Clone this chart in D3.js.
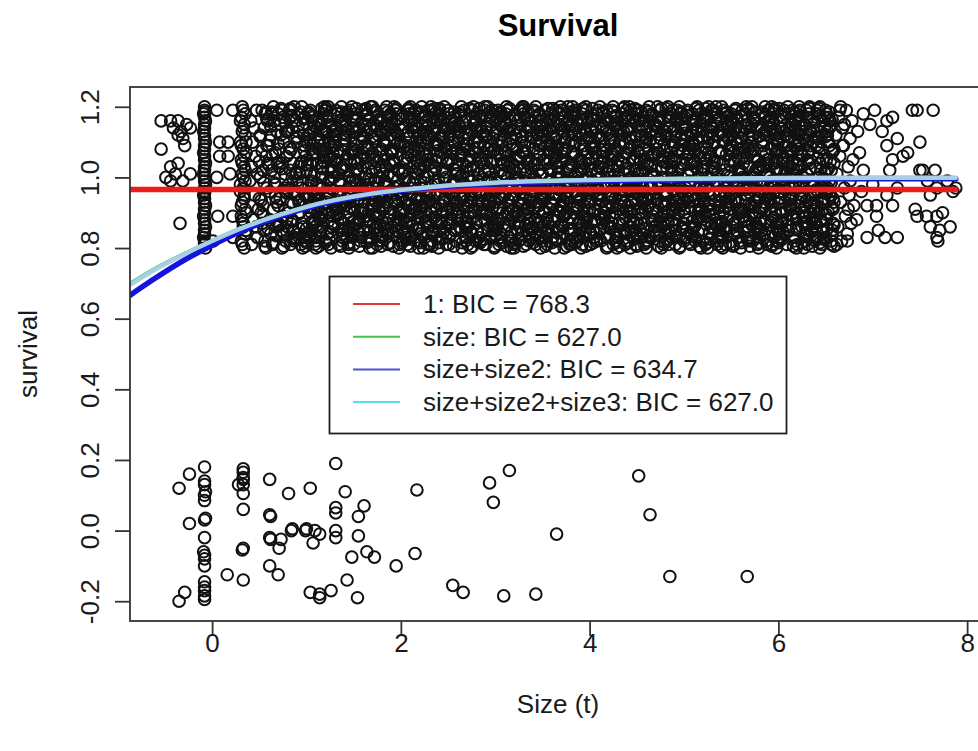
<!DOCTYPE html>
<html>
<head>
<meta charset="utf-8">
<script src="https://cdn.jsdelivr.net/npm/d3@7"></script>
<style>
  body { margin: 0; background: #fff; }
  text { font-family: "Liberation Sans", Arial, Helvetica, sans-serif; }
</style>
</head>
<body>
<svg id="chart" width="978" height="751"></svg>
<script>
// ---- axis ticks ----
const xTicks = [0, 2, 4, 6, 8];
const yTicks = [-0.2, 0, 0.2, 0.4, 0.6, 0.8, 1.0, 1.2];

// ---- individuals that died: [size, jittered survival] ----
const died = [
[-0.35,0.12],[-0.24,0.16],[-0.08,0.18],[-0.08,0.14],[-0.08,0.13],[-0.07,0.11],[-0.08,0.10],[-0.08,0.085],[-0.24,0.02],[-0.08,0.03],[-0.07,0.035],[-0.08,-0.02],[-0.09,-0.06],[-0.08,-0.07],[-0.08,-0.08],[-0.08,-0.10],[-0.08,-0.145],[-0.08,-0.16],[-0.08,-0.17],[-0.08,-0.185],[-0.08,-0.195],[-0.29,-0.175],[-0.35,-0.20],
[0.33,0.175],[0.33,0.165],[0.33,0.15],[0.33,0.145],[0.33,0.13],[0.28,0.13],[0.33,0.105],[0.33,0.06],[0.33,-0.05],[0.32,-0.055],[0.33,-0.14],[0.16,-0.125],
[0.61,0.145],[0.61,0.045],[0.62,0.04],[0.61,-0.02],[0.62,-0.025],[0.71,-0.05],[0.73,-0.025],[0.61,-0.10],[0.70,-0.125],[0.81,0.105],[0.84,0.0],[0.85,0.005],[0.99,0.0],[1.00,0.005],[1.09,0.0],[1.14,-0.01],[1.07,-0.035],[1.04,0.12],[1.31,0.19],[1.31,0.065],[1.31,0.05],[1.31,0.0],[1.31,-0.02],[1.41,0.11],[1.61,0.07],[1.55,0.04],[1.55,-0.015],[1.48,-0.075],[1.64,-0.06],[1.72,-0.075],[1.43,-0.14],[1.54,-0.19],[1.04,-0.175],[1.14,-0.18],[1.14,-0.19],[1.26,-0.17],[1.95,-0.10],[2.15,-0.065],[2.17,0.115],
[2.55,-0.155],[2.66,-0.175],[2.94,0.135],[3.15,0.17],[2.98,0.08],[3.09,-0.185],[3.43,-0.18],[3.65,-0.01],[4.52,0.155],[4.64,0.045],[4.85,-0.13],[5.67,-0.13]
];

// ---- individuals that survived: [size, jittered survival] ----
const survivedSmall = [
[-0.54,1.16],[-0.44,1.16],[-0.36,1.16],[-0.27,1.15],[-0.41,1.14],[-0.33,1.13],[-0.23,1.14],[-0.31,1.11],[-0.36,1.12],[-0.54,1.08],[-0.29,1.09],[-0.44,1.03],[-0.36,1.04],[-0.49,1.00],[-0.39,1.01],[-0.23,1.01],[-0.31,0.99],[-0.44,0.99],[-0.34,0.87],
[0.05,1.19],[0.22,1.19],[0.08,1.10],[0.17,1.10],[0.08,1.06],[0.17,1.06],[0.05,1.00],[0.19,1.01],[0.06,0.89],[0.22,0.89],[0.01,0.82],[0.22,0.83]
];
const survivedColumnA = [
[-0.08,1.20],[-0.08,1.19],[-0.09,1.18],[-0.08,1.17],[-0.07,1.16],[-0.08,1.15],[-0.08,1.14],[-0.09,1.13],[-0.08,1.12],[-0.08,1.11],[-0.07,1.10],[-0.08,1.09],[-0.08,1.08],[-0.09,1.07],[-0.08,1.06],[-0.08,1.05],[-0.07,1.04],[-0.08,1.03],[-0.08,1.02],[-0.09,1.01],[-0.08,1.00],[-0.08,0.99],[-0.07,0.98],[-0.08,0.97],[-0.08,0.96],[-0.09,0.95],[-0.08,0.94],[-0.08,0.93],[-0.07,0.92],[-0.08,0.91],[-0.08,0.90],[-0.09,0.89],[-0.08,0.88],[-0.08,0.87],[-0.07,0.86],[-0.08,0.85],[-0.08,0.84],[-0.09,0.83],[-0.08,0.82],[-0.08,0.81],[-0.07,0.80],[-0.08,1.185],[-0.08,0.955],[-0.08,0.815]
];
const survivedColumnB = [
[0.33,1.19],[0.31,1.17],[0.34,1.15],[0.32,1.13],[0.35,1.12],[0.30,1.10],[0.33,1.08],[0.36,1.07],[0.31,1.05],[0.34,1.03],[0.32,1.01],[0.35,0.99],[0.33,0.97],[0.30,0.96],[0.34,0.94],[0.31,0.92],[0.36,0.90],[0.32,0.88],[0.33,0.86],[0.35,0.84],[0.31,0.82],[0.34,0.80],[0.32,1.20],[0.35,1.18],[0.30,1.16],[0.33,1.14],[0.36,1.10],[0.31,1.09],[0.34,1.06],[0.32,1.04],[0.35,1.02],[0.33,1.00],[0.30,0.98],[0.34,0.95],[0.32,0.93],[0.35,0.91],[0.31,0.89],[0.33,0.87],[0.36,0.85],[0.32,0.81]
];
const survivedRising = [
[0.41,1.16],[0.44,0.88],[0.42,1.03],[0.47,1.19],[0.45,0.95],[0.48,0.83],[0.43,1.10],[0.46,1.06],[0.49,0.91],[0.40,0.99],[0.44,1.14],[0.47,0.86],[0.42,0.81],[0.48,1.01],
[0.51,1.12],[0.55,0.85],[0.53,1.19],[0.58,0.97],[0.52,0.90],[0.57,1.06],[0.54,1.02],[0.59,1.16],[0.56,0.82],[0.50,0.94],[0.58,1.09],[0.53,0.87],[0.55,1.14],[0.51,1.00],[0.57,0.80],[0.59,1.04],[0.54,0.92],[0.56,1.18],
[0.61,0.96],[0.64,1.18],[0.62,0.84],[0.67,1.07],[0.65,0.91],[0.69,1.13],[0.63,1.02],[0.68,0.86],[0.66,1.16],[0.60,1.09],[0.64,0.81],[0.67,0.98],[0.69,1.04],[0.62,1.12],[0.65,1.20],[0.68,0.93],[0.61,0.88],[0.66,1.00],
[0.72,1.15],[0.75,0.89],[0.71,1.03],[0.78,0.82],[0.74,1.19],[0.77,0.97],[0.70,0.92],[0.76,1.10],[0.73,0.85],[0.79,1.06],[0.75,1.17],[0.72,0.94],[0.78,1.13],[0.74,0.80],[0.71,1.08],[0.77,1.01],[0.79,0.88],[0.73,1.12],[0.76,0.84],[0.70,1.18],[0.78,0.96],[0.74,1.04],
[0.81,0.90],[0.85,1.14],[0.83,1.02],[0.88,0.83],[0.82,1.19],[0.87,0.96],[0.84,1.08],[0.89,1.16],[0.80,0.86],[0.86,1.04],[0.83,0.81],[0.88,1.11],[0.81,0.98],[0.85,0.88],[0.87,1.20],[0.84,0.93],[0.89,1.01],[0.82,1.07],[0.86,0.85],[0.80,1.13],[0.88,0.95],[0.83,1.17],[0.85,1.00],[0.87,0.82],
[0.92,1.03],[0.95,0.87],[0.91,1.18],[0.98,0.95],[0.94,0.81],[0.97,1.12],[0.90,0.99],[0.96,1.15],[0.93,0.90],[0.99,1.06],[0.95,1.20],[0.92,0.84],[0.98,1.09],[0.94,0.97],[0.91,1.13],[0.97,0.86],[0.99,0.92],[0.93,1.01],[0.96,0.80],[0.90,1.10],[0.98,1.17],[0.94,1.04],[0.92,0.93],[0.97,0.83],
[0.50,1.045],[0.54,0.895],[0.58,1.165],[0.52,0.935],[0.56,0.805],[0.51,1.115],[0.55,0.985],[0.59,0.855],[0.53,1.075],[0.57,1.185],
[0.65,0.815],[0.61,1.105],[0.67,0.945],[0.63,1.185],[0.69,0.875],[0.60,1.035],[0.66,0.985],[0.62,1.145],[0.68,0.835],[0.64,1.065],
[0.78,1.155],[0.72,0.865],[0.74,1.025],[0.76,0.805],[0.70,1.095],[0.79,0.955],[0.73,1.195],[0.77,0.905],[0.71,1.045],[0.75,0.845],
[0.80,0.965],[0.84,1.175],[0.88,0.825],[0.82,1.085],[0.86,0.925],[0.81,1.135],[0.85,0.875],[0.89,1.015],[0.83,1.195],[0.87,0.845],
[0.95,1.045],[0.91,0.895],[0.97,1.165],[0.93,0.935],[0.99,0.805],[0.90,1.115],[0.96,0.985],[0.92,0.855],[0.98,1.075],[0.94,1.185]
];
const survivedBulk = [
[1.03,0.83],[1.07,1.17],[1.01,0.95],[1.05,1.08],[1.09,0.88],[1.00,1.02],[1.04,1.19],[1.08,0.91],[1.02,1.12],[1.06,0.85],[1.05,0.99],[1.01,1.05],[1.09,0.81],[1.03,1.14],[1.07,0.93],[1.00,1.10],[1.08,0.87],[1.04,1.01],[1.06,1.16],[1.02,0.97],[1.01,0.84],[1.09,1.07],[1.05,0.90],[1.03,1.18],[1.07,0.96],[1.04,1.04],[1.00,0.82],[1.08,1.13],[1.02,0.94],[1.06,1.09],
[1.18,1.06],[1.12,0.92],[1.15,1.15],[1.10,0.80],[1.16,1.03],[1.13,0.89],[1.19,1.20],[1.11,0.98],[1.17,0.86],[1.14,1.11],[1.12,0.94],[1.18,1.18],[1.10,0.83],[1.16,1.00],[1.14,1.09],[1.19,0.91],[1.13,1.16],[1.15,0.85],[1.11,1.04],[1.17,0.97],[1.16,1.13],[1.10,0.82],[1.18,1.07],[1.12,0.95],[1.19,1.19],[1.14,0.88],[1.17,1.01],[1.11,1.14],[1.15,0.90],[1.13,1.08],
[1.25,0.97],[1.29,1.12],[1.22,0.84],[1.27,1.03],[1.20,1.19],[1.24,0.90],[1.28,1.07],[1.23,0.81],[1.26,1.15],[1.21,0.93],[1.29,1.00],[1.24,1.10],[1.27,0.87],[1.22,1.17],[1.25,0.95],[1.20,0.82],[1.26,1.05],[1.21,1.13],[1.28,0.89],[1.23,1.20],[1.24,0.99],[1.27,0.86],[1.20,1.08],[1.29,0.92],[1.22,1.16],[1.26,0.80],[1.23,1.02],[1.28,1.11],[1.21,0.94],[1.25,1.06],
[1.31,1.14],[1.36,0.88],[1.34,1.01],[1.39,0.93],[1.33,1.18],[1.38,0.82],[1.30,1.09],[1.35,0.96],[1.32,1.05],[1.37,0.85],[1.37,1.20],[1.33,0.91],[1.31,1.12],[1.35,0.99],[1.39,0.84],[1.36,1.16],[1.32,0.90],[1.38,1.03],[1.34,0.81],[1.30,1.10],[1.33,0.95],[1.35,1.07],[1.39,0.87],[1.31,1.19],[1.36,0.98],[1.30,1.13],[1.38,0.83],[1.32,1.04],[1.37,0.92],[1.34,1.17],
[1.43,0.90],[1.47,1.04],[1.41,1.16],[1.45,0.86],[1.49,0.99],[1.40,1.11],[1.44,0.81],[1.48,1.07],[1.42,0.94],[1.46,1.19],[1.45,0.88],[1.41,1.02],[1.49,1.14],[1.43,0.83],[1.47,0.97],[1.40,1.09],[1.48,1.20],[1.44,0.85],[1.46,1.00],[1.42,1.12],[1.41,0.92],[1.49,1.17],[1.45,0.80],[1.43,1.05],[1.47,0.96],[1.44,1.13],[1.40,0.87],[1.48,1.08],[1.42,1.18],[1.46,0.93],
[1.58,0.83],[1.52,1.17],[1.55,0.95],[1.50,1.08],[1.56,0.88],[1.53,1.02],[1.59,1.19],[1.51,0.91],[1.57,1.12],[1.54,0.85],[1.52,0.99],[1.58,1.05],[1.50,0.81],[1.56,1.14],[1.54,0.93],[1.59,1.10],[1.53,0.87],[1.55,1.01],[1.51,1.16],[1.57,0.97],[1.56,0.84],[1.50,1.07],[1.58,0.90],[1.52,1.18],[1.59,0.96],[1.54,1.04],[1.57,0.82],[1.51,1.13],[1.55,0.94],[1.53,1.09],
[1.65,1.06],[1.69,0.92],[1.62,1.15],[1.67,0.80],[1.60,1.03],[1.64,0.89],[1.68,1.20],[1.63,0.98],[1.66,0.86],[1.61,1.11],[1.69,0.94],[1.64,1.18],[1.67,0.83],[1.62,1.00],[1.65,1.09],[1.60,0.91],[1.66,1.16],[1.61,0.85],[1.68,1.04],[1.63,0.97],[1.64,1.13],[1.67,0.82],[1.60,1.07],[1.69,0.95],[1.62,1.19],[1.66,0.88],[1.63,1.01],[1.68,1.14],[1.61,0.90],[1.65,1.08],
[1.71,0.97],[1.76,1.12],[1.74,0.84],[1.79,1.03],[1.73,1.19],[1.78,0.90],[1.70,1.07],[1.75,0.81],[1.72,1.15],[1.77,0.93],[1.77,1.00],[1.73,1.10],[1.71,0.87],[1.75,1.17],[1.79,0.95],[1.76,0.82],[1.72,1.05],[1.78,1.13],[1.74,0.89],[1.70,1.20],[1.73,0.99],[1.75,0.86],[1.79,1.08],[1.71,0.92],[1.76,1.16],[1.70,0.80],[1.78,1.02],[1.72,1.11],[1.77,0.94],[1.74,1.06],
[1.83,1.14],[1.87,0.88],[1.81,1.01],[1.85,0.93],[1.89,1.18],[1.80,0.82],[1.84,1.09],[1.88,0.96],[1.82,1.05],[1.86,0.85],[1.85,1.20],[1.81,0.91],[1.89,1.12],[1.83,0.99],[1.87,0.84],[1.80,1.16],[1.88,0.90],[1.84,1.03],[1.86,0.81],[1.82,1.10],[1.81,0.95],[1.89,1.07],[1.85,0.87],[1.83,1.19],[1.87,0.98],[1.84,1.13],[1.80,0.83],[1.88,1.04],[1.82,0.92],[1.86,1.17],
[1.98,0.90],[1.92,1.04],[1.95,1.16],[1.90,0.86],[1.96,0.99],[1.93,1.11],[1.99,0.81],[1.91,1.07],[1.97,0.94],[1.94,1.19],[1.92,0.88],[1.98,1.02],[1.90,1.14],[1.96,0.83],[1.94,0.97],[1.99,1.09],[1.93,1.20],[1.95,0.85],[1.91,1.00],[1.97,1.12],[1.96,0.92],[1.90,1.17],[1.98,0.80],[1.92,1.05],[1.99,0.96],[1.94,1.13],[1.97,0.87],[1.91,1.08],[1.95,1.18],[1.93,0.93],
[2.05,0.83],[2.09,1.17],[2.02,0.95],[2.07,1.08],[2.00,0.88],[2.04,1.02],[2.08,1.19],[2.03,0.91],[2.06,1.12],[2.01,0.85],[2.09,0.99],[2.04,1.05],[2.07,0.81],[2.02,1.14],[2.05,0.93],[2.00,1.10],[2.06,0.87],[2.01,1.01],[2.08,1.16],[2.03,0.97],[2.04,0.84],[2.07,1.07],[2.00,0.90],[2.09,1.18],[2.02,0.96],[2.06,1.04],[2.03,0.82],[2.08,1.13],[2.01,0.94],[2.05,1.09],
[2.11,1.06],[2.16,0.92],[2.14,1.15],[2.19,0.80],[2.13,1.03],[2.18,0.89],[2.10,1.20],[2.15,0.98],[2.12,0.86],[2.17,1.11],[2.17,0.94],[2.13,1.18],[2.11,0.83],[2.15,1.00],[2.19,1.09],[2.16,0.91],[2.12,1.16],[2.18,0.85],[2.14,1.04],[2.10,0.97],[2.13,1.13],[2.15,0.82],[2.19,1.07],[2.11,0.95],[2.16,1.19],[2.10,0.88],[2.18,1.01],[2.12,1.14],[2.17,0.90],[2.14,1.08],
[2.23,0.97],[2.27,1.12],[2.21,0.84],[2.25,1.03],[2.29,1.19],[2.20,0.90],[2.24,1.07],[2.28,0.81],[2.22,1.15],[2.26,0.93],[2.25,1.00],[2.21,1.10],[2.29,0.87],[2.23,1.17],[2.27,0.95],[2.20,0.82],[2.28,1.05],[2.24,1.13],[2.26,0.89],[2.22,1.20],[2.21,0.99],[2.29,0.86],[2.25,1.08],[2.23,0.92],[2.27,1.16],[2.24,0.80],[2.20,1.02],[2.28,1.11],[2.22,0.94],[2.26,1.06],
[2.38,1.14],[2.32,0.88],[2.35,1.01],[2.30,0.93],[2.36,1.18],[2.33,0.82],[2.39,1.09],[2.31,0.96],[2.37,1.05],[2.34,0.85],[2.32,1.20],[2.38,0.91],[2.30,1.12],[2.36,0.99],[2.34,0.84],[2.39,1.16],[2.33,0.90],[2.35,1.03],[2.31,0.81],[2.37,1.10],[2.36,0.95],[2.30,1.07],[2.38,0.87],[2.32,1.19],[2.39,0.98],[2.34,1.13],[2.37,0.83],[2.31,1.04],[2.35,0.92],[2.33,1.17],
[2.45,0.90],[2.49,1.04],[2.42,1.16],[2.47,0.86],[2.40,0.99],[2.44,1.11],[2.48,0.81],[2.43,1.07],[2.46,0.94],[2.41,1.19],[2.49,0.88],[2.44,1.02],[2.47,1.14],[2.42,0.83],[2.45,0.97],[2.40,1.09],[2.46,1.20],[2.41,0.85],[2.48,1.00],[2.43,1.12],[2.44,0.92],[2.47,1.17],[2.40,0.80],[2.49,1.05],[2.42,0.96],[2.46,1.13],[2.43,0.87],[2.48,1.08],[2.41,1.18],[2.45,0.93],
[2.51,0.83],[2.56,1.17],[2.54,0.95],[2.59,1.08],[2.53,0.88],[2.58,1.02],[2.50,1.19],[2.55,0.91],[2.52,1.12],[2.57,0.85],[2.57,0.99],[2.53,1.05],[2.51,0.81],[2.55,1.14],[2.59,0.93],[2.56,1.10],[2.52,0.87],[2.58,1.01],[2.54,1.16],[2.50,0.97],[2.53,0.84],[2.55,1.07],[2.59,0.90],[2.51,1.18],[2.56,0.96],[2.50,1.04],[2.58,0.82],[2.52,1.13],[2.57,0.94],[2.54,1.09],
[2.63,1.06],[2.67,0.92],[2.61,1.15],[2.65,0.80],[2.69,1.03],[2.60,0.89],[2.64,1.20],[2.68,0.98],[2.62,0.86],[2.66,1.11],[2.65,0.94],[2.61,1.18],[2.69,0.83],[2.63,1.00],[2.67,1.09],[2.60,0.91],[2.68,1.16],[2.64,0.85],[2.66,1.04],[2.62,0.97],[2.61,1.13],[2.69,0.82],[2.65,1.07],[2.63,0.95],[2.67,1.19],[2.64,0.88],[2.60,1.01],[2.68,1.14],[2.62,0.90],[2.66,1.08],
[2.78,0.97],[2.72,1.12],[2.75,0.84],[2.70,1.03],[2.76,1.19],[2.73,0.90],[2.79,1.07],[2.71,0.81],[2.77,1.15],[2.74,0.93],[2.72,1.00],[2.78,1.10],[2.70,0.87],[2.76,1.17],[2.74,0.95],[2.79,0.82],[2.73,1.05],[2.75,1.13],[2.71,0.89],[2.77,1.20],[2.76,0.99],[2.70,0.86],[2.78,1.08],[2.72,0.92],[2.79,1.16],[2.74,0.80],[2.77,1.02],[2.71,1.11],[2.75,0.94],[2.73,1.06],
[2.85,1.14],[2.89,0.88],[2.82,1.01],[2.87,0.93],[2.80,1.18],[2.84,0.82],[2.88,1.09],[2.83,0.96],[2.86,1.05],[2.81,0.85],[2.89,1.20],[2.84,0.91],[2.87,1.12],[2.82,0.99],[2.85,0.84],[2.80,1.16],[2.86,0.90],[2.81,1.03],[2.88,0.81],[2.83,1.10],[2.84,0.95],[2.87,1.07],[2.80,0.87],[2.89,1.19],[2.82,0.98],[2.86,1.13],[2.83,0.83],[2.88,1.04],[2.81,0.92],[2.85,1.17],
[2.91,0.90],[2.96,1.04],[2.94,1.16],[2.99,0.86],[2.93,0.99],[2.98,1.11],[2.90,0.81],[2.95,1.07],[2.92,0.94],[2.97,1.19],[2.97,0.88],[2.93,1.02],[2.91,1.14],[2.95,0.83],[2.99,0.97],[2.96,1.09],[2.92,1.20],[2.98,0.85],[2.94,1.00],[2.90,1.12],[2.93,0.92],[2.95,1.17],[2.99,0.80],[2.91,1.05],[2.96,0.96],[2.90,1.13],[2.98,0.87],[2.92,1.08],[2.97,1.18],[2.94,0.93],
[3.03,1.09],[3.07,0.94],[3.01,1.13],[3.05,0.82],[3.09,1.04],[3.00,0.96],[3.04,1.18],[3.08,0.90],[3.02,1.07],[3.06,0.84],[3.05,0.97],[3.01,1.16],[3.09,1.01],[3.03,0.87],[3.07,1.10],[3.00,0.93],[3.08,1.14],[3.04,0.81],[3.06,1.05],[3.02,0.99],[3.01,0.85],[3.09,1.12],[3.05,0.91],[3.03,1.19],[3.07,1.02],[3.04,0.88],[3.00,1.08],[3.08,0.95],[3.02,1.17],[3.06,0.83],
[3.18,1.08],[3.12,0.90],[3.15,1.14],[3.10,1.01],[3.16,0.88],[3.13,1.19],[3.19,0.95],[3.11,1.07],[3.17,0.82],[3.14,1.13],[3.12,0.97],[3.18,1.04],[3.10,0.85],[3.16,1.16],[3.14,0.91],[3.19,1.09],[3.13,1.00],[3.15,0.83],[3.11,1.18],[3.17,0.94],[3.16,1.11],[3.10,0.86],[3.18,0.98],[3.12,1.20],[3.19,0.89],[3.14,1.03],[3.17,0.80],[3.11,1.15],[3.15,0.92],[3.13,1.06],
[3.25,1.06],[3.29,0.94],[3.22,1.11],[3.27,1.02],[3.20,0.80],[3.24,1.16],[3.28,0.92],[3.23,1.08],[3.26,0.86],[3.21,0.99],[3.29,1.20],[3.24,0.89],[3.27,1.13],[3.22,1.05],[3.25,0.82],[3.20,0.95],[3.26,1.17],[3.21,0.87],[3.28,1.10],[3.23,1.00],[3.24,0.93],[3.27,1.15],[3.20,0.81],[3.29,1.07],[3.22,0.90],[3.26,1.19],[3.23,1.03],[3.28,0.84],[3.21,1.12],[3.25,0.97],
[3.31,1.17],[3.36,0.92],[3.34,1.04],[3.39,0.83],[3.33,1.13],[3.38,0.98],[3.30,1.19],[3.35,0.87],[3.32,1.07],[3.37,0.95],[3.37,1.10],[3.33,0.81],[3.31,1.03],[3.35,0.90],[3.39,1.16],[3.36,0.84],[3.32,0.99],[3.38,1.12],[3.34,0.91],[3.30,1.20],[3.33,0.85],[3.35,1.05],[3.39,0.96],[3.31,1.09],[3.36,0.82],[3.30,1.18],[3.38,0.93],[3.32,1.01],[3.37,0.88],[3.34,1.14],
[3.43,0.93],[3.47,1.18],[3.41,1.08],[3.45,0.87],[3.49,1.13],[3.40,0.96],[3.44,1.05],[3.48,0.80],[3.42,1.17],[3.46,0.92],[3.45,1.12],[3.41,1.00],[3.49,0.85],[3.43,1.20],[3.47,1.09],[3.40,0.97],[3.48,0.83],[3.44,1.14],[3.46,1.02],[3.42,0.88],[3.41,1.19],[3.49,0.94],[3.45,1.07],[3.43,0.81],[3.47,1.11],[3.44,0.99],[3.40,0.86],[3.48,1.16],[3.42,1.04],[3.46,0.90],
[3.58,1.09],[3.52,0.94],[3.55,1.13],[3.50,0.82],[3.56,1.04],[3.53,0.96],[3.59,1.18],[3.51,0.90],[3.57,1.07],[3.54,0.84],[3.52,0.97],[3.58,1.16],[3.50,1.01],[3.56,0.87],[3.54,1.10],[3.59,0.93],[3.53,1.14],[3.55,0.81],[3.51,1.05],[3.57,0.99],[3.56,0.85],[3.50,1.12],[3.58,0.91],[3.52,1.19],[3.59,1.02],[3.54,0.88],[3.57,1.08],[3.51,0.95],[3.55,1.17],[3.53,0.83],
[3.65,1.08],[3.69,0.90],[3.62,1.14],[3.67,1.01],[3.60,0.88],[3.64,1.19],[3.68,0.95],[3.63,1.07],[3.66,0.82],[3.61,1.13],[3.69,0.97],[3.64,1.04],[3.67,0.85],[3.62,1.16],[3.65,0.91],[3.60,1.09],[3.66,1.00],[3.61,0.83],[3.68,1.18],[3.63,0.94],[3.64,1.11],[3.67,0.86],[3.60,0.98],[3.69,1.20],[3.62,0.89],[3.66,1.03],[3.63,0.80],[3.68,1.15],[3.61,0.92],[3.65,1.06],
[3.71,1.06],[3.76,0.94],[3.74,1.11],[3.79,1.02],[3.73,0.80],[3.78,1.16],[3.70,0.92],[3.75,1.08],[3.72,0.86],[3.77,0.99],[3.77,1.20],[3.73,0.89],[3.71,1.13],[3.75,1.05],[3.79,0.82],[3.76,0.95],[3.72,1.17],[3.78,0.87],[3.74,1.10],[3.70,1.00],[3.73,0.93],[3.75,1.15],[3.79,0.81],[3.71,1.07],[3.76,0.90],[3.70,1.19],[3.78,1.03],[3.72,0.84],[3.77,1.12],[3.74,0.97],
[3.83,1.17],[3.87,0.92],[3.81,1.04],[3.85,0.83],[3.89,1.13],[3.80,0.98],[3.84,1.19],[3.88,0.87],[3.82,1.07],[3.86,0.95],[3.85,1.10],[3.81,0.81],[3.89,1.03],[3.83,0.90],[3.87,1.16],[3.80,0.84],[3.88,0.99],[3.84,1.12],[3.86,0.91],[3.82,1.20],[3.81,0.85],[3.89,1.05],[3.85,0.96],[3.83,1.09],[3.87,0.82],[3.84,1.18],[3.80,0.93],[3.88,1.01],[3.82,0.88],[3.86,1.14],
[3.98,0.93],[3.92,1.18],[3.95,1.08],[3.90,0.87],[3.96,1.13],[3.93,0.96],[3.99,1.05],[3.91,0.80],[3.97,1.17],[3.94,0.92],[3.92,1.12],[3.98,1.00],[3.90,0.85],[3.96,1.20],[3.94,1.09],[3.99,0.97],[3.93,0.83],[3.95,1.14],[3.91,1.02],[3.97,0.88],[3.96,1.19],[3.90,0.94],[3.98,1.07],[3.92,0.81],[3.99,1.11],[3.94,0.99],[3.97,0.86],[3.91,1.16],[3.95,1.04],[3.93,0.90],
[4.05,1.09],[4.09,0.94],[4.02,1.13],[4.07,0.82],[4.00,1.04],[4.04,0.96],[4.08,1.18],[4.03,0.90],[4.06,1.07],[4.01,0.84],[4.09,0.97],[4.04,1.16],[4.07,1.01],[4.02,0.87],[4.05,1.10],[4.00,0.93],[4.06,1.14],[4.01,0.81],[4.08,1.05],[4.03,0.99],[4.04,0.85],[4.07,1.12],[4.00,0.91],[4.09,1.19],[4.02,1.02],[4.06,0.88],[4.03,1.08],[4.08,0.95],[4.01,1.17],[4.05,0.83],
[4.11,1.08],[4.16,0.90],[4.14,1.14],[4.19,1.01],[4.13,0.88],[4.18,1.19],[4.10,0.95],[4.15,1.07],[4.12,0.82],[4.17,1.13],[4.17,0.97],[4.13,1.04],[4.11,0.85],[4.15,1.16],[4.19,0.91],[4.16,1.09],[4.12,1.00],[4.18,0.83],[4.14,1.18],[4.10,0.94],[4.13,1.11],[4.15,0.86],[4.19,0.98],[4.11,1.20],[4.16,0.89],[4.10,1.03],[4.18,0.80],[4.12,1.15],[4.17,0.92],[4.14,1.06],
[4.23,1.06],[4.27,0.94],[4.21,1.11],[4.25,1.02],[4.29,0.80],[4.20,1.16],[4.24,0.92],[4.28,1.08],[4.22,0.86],[4.26,0.99],[4.25,1.20],[4.21,0.89],[4.29,1.13],[4.23,1.05],[4.27,0.82],[4.20,0.95],[4.28,1.17],[4.24,0.87],[4.26,1.10],[4.22,1.00],[4.21,0.93],[4.29,1.15],[4.25,0.81],[4.23,1.07],[4.27,0.90],[4.24,1.19],[4.20,1.03],[4.28,0.84],[4.22,1.12],[4.26,0.97],
[4.38,1.17],[4.32,0.92],[4.35,1.04],[4.30,0.83],[4.36,1.13],[4.33,0.98],[4.39,1.19],[4.31,0.87],[4.37,1.07],[4.34,0.95],[4.32,1.10],[4.38,0.81],[4.30,1.03],[4.36,0.90],[4.34,1.16],[4.39,0.84],[4.33,0.99],[4.35,1.12],[4.31,0.91],[4.37,1.20],[4.36,0.85],[4.30,1.05],[4.38,0.96],[4.32,1.09],[4.39,0.82],[4.34,1.18],[4.37,0.93],[4.31,1.01],[4.35,0.88],[4.33,1.14],
[4.45,0.93],[4.49,1.18],[4.42,1.08],[4.47,0.87],[4.40,1.13],[4.44,0.96],[4.48,1.05],[4.43,0.80],[4.46,1.17],[4.41,0.92],[4.49,1.12],[4.44,1.00],[4.47,0.85],[4.42,1.20],[4.45,1.09],[4.40,0.97],[4.46,0.83],[4.41,1.14],[4.48,1.02],[4.43,0.88],[4.44,1.19],[4.47,0.94],[4.40,1.07],[4.49,0.81],[4.42,1.11],[4.46,0.99],[4.43,0.86],[4.48,1.16],[4.41,1.04],[4.45,0.90],
[4.51,1.09],[4.56,0.94],[4.54,1.13],[4.59,0.82],[4.53,1.04],[4.58,0.96],[4.50,1.18],[4.55,0.90],[4.52,1.07],[4.57,0.84],[4.57,0.97],[4.53,1.16],[4.51,1.01],[4.55,0.87],[4.59,1.10],[4.56,0.93],[4.52,1.14],[4.58,0.81],[4.54,1.05],[4.50,0.99],[4.53,0.85],[4.55,1.12],[4.59,0.91],[4.51,1.19],[4.56,1.02],[4.50,0.88],[4.58,1.08],[4.52,0.95],[4.57,1.17],[4.54,0.83],
[4.63,1.08],[4.67,0.90],[4.61,1.14],[4.65,1.01],[4.69,0.88],[4.60,1.19],[4.64,0.95],[4.68,1.07],[4.62,0.82],[4.66,1.13],[4.65,0.97],[4.61,1.04],[4.69,0.85],[4.63,1.16],[4.67,0.91],[4.60,1.09],[4.68,1.00],[4.64,0.83],[4.66,1.18],[4.62,0.94],[4.61,1.11],[4.69,0.86],[4.65,0.98],[4.63,1.20],[4.67,0.89],[4.64,1.03],[4.60,0.80],[4.68,1.15],[4.62,0.92],[4.66,1.06],
[4.78,1.06],[4.72,0.94],[4.75,1.11],[4.70,1.02],[4.76,0.80],[4.73,1.16],[4.79,0.92],[4.71,1.08],[4.77,0.86],[4.74,0.99],[4.72,1.20],[4.78,0.89],[4.70,1.13],[4.76,1.05],[4.74,0.82],[4.79,0.95],[4.73,1.17],[4.75,0.87],[4.71,1.10],[4.77,1.00],[4.76,0.93],[4.70,1.15],[4.78,0.81],[4.72,1.07],[4.79,0.90],[4.74,1.19],[4.77,1.03],[4.71,0.84],[4.75,1.12],[4.73,0.97],
[4.85,1.17],[4.89,0.92],[4.82,1.04],[4.87,0.83],[4.80,1.13],[4.84,0.98],[4.88,1.19],[4.83,0.87],[4.86,1.07],[4.81,0.95],[4.89,1.10],[4.84,0.81],[4.87,1.03],[4.82,0.90],[4.85,1.16],[4.80,0.84],[4.86,0.99],[4.81,1.12],[4.88,0.91],[4.83,1.20],[4.84,0.85],[4.87,1.05],[4.80,0.96],[4.89,1.09],[4.82,0.82],[4.86,1.18],[4.83,0.93],[4.88,1.01],[4.81,0.88],[4.85,1.14],
[4.91,0.93],[4.96,1.18],[4.94,1.08],[4.99,0.87],[4.93,1.13],[4.98,0.96],[4.90,1.05],[4.95,0.80],[4.92,1.17],[4.97,0.92],[4.97,1.12],[4.93,1.00],[4.91,0.85],[4.95,1.20],[4.99,1.09],[4.96,0.97],[4.92,0.83],[4.98,1.14],[4.94,1.02],[4.90,0.88],[4.93,1.19],[4.95,0.94],[4.99,1.07],[4.91,0.81],[4.96,1.11],[4.90,0.99],[4.98,0.86],[4.92,1.16],[4.97,1.04],[4.94,0.90],
[5.03,1.05],[5.07,0.81],[5.01,1.14],[5.05,0.93],[5.09,1.10],[5.00,0.87],[5.04,1.01],[5.08,1.16],[5.02,0.97],[5.06,0.84],[5.05,1.07],[5.01,0.90],[5.09,1.18],[5.03,0.96],[5.07,1.04],[5.00,0.82],[5.08,1.13],[5.04,0.94],[5.06,1.09],[5.02,0.83],[5.01,1.17],[5.09,0.95],[5.05,1.08],[5.03,0.88],[5.07,1.02],[5.04,1.19],[5.00,0.91],[5.08,1.12],[5.02,0.85],[5.06,0.99],
[5.18,1.18],[5.12,0.83],[5.15,1.00],[5.10,1.09],[5.16,0.91],[5.13,1.16],[5.19,0.85],[5.11,1.04],[5.17,0.97],[5.14,1.13],[5.12,0.82],[5.18,1.07],[5.10,0.95],[5.16,1.19],[5.14,0.88],[5.19,1.01],[5.13,1.14],[5.15,0.90],[5.11,1.08],[5.17,1.06],[5.16,0.92],[5.10,1.15],[5.18,0.80],[5.12,1.03],[5.19,0.89],[5.14,1.20],[5.17,0.98],[5.11,0.86],[5.15,1.11],[5.13,0.94],
[5.25,1.10],[5.29,0.87],[5.22,1.17],[5.27,0.95],[5.20,0.82],[5.24,1.05],[5.28,1.13],[5.23,0.89],[5.26,1.20],[5.21,0.99],[5.29,0.86],[5.24,1.08],[5.27,0.92],[5.22,1.16],[5.25,0.80],[5.20,1.02],[5.26,1.11],[5.21,0.94],[5.28,1.06],[5.23,0.97],[5.24,1.12],[5.27,0.84],[5.20,1.03],[5.29,1.19],[5.22,0.90],[5.26,1.07],[5.23,0.81],[5.28,1.15],[5.21,0.93],[5.25,1.00],
[5.31,0.91],[5.36,1.12],[5.34,0.99],[5.39,0.84],[5.33,1.16],[5.38,0.90],[5.30,1.03],[5.35,0.81],[5.32,1.10],[5.37,0.95],[5.37,1.07],[5.33,0.87],[5.31,1.19],[5.35,0.98],[5.39,1.13],[5.36,0.83],[5.32,1.04],[5.38,0.92],[5.34,1.17],[5.30,1.14],[5.33,0.88],[5.35,1.01],[5.39,0.93],[5.31,1.18],[5.36,0.82],[5.30,1.09],[5.38,0.96],[5.32,1.05],[5.37,0.85],[5.34,1.20],
[5.43,1.02],[5.47,1.14],[5.41,0.83],[5.45,0.97],[5.49,1.09],[5.40,1.20],[5.44,0.85],[5.48,1.00],[5.42,1.12],[5.46,0.92],[5.45,1.17],[5.41,0.80],[5.49,1.05],[5.43,0.96],[5.47,1.13],[5.40,0.87],[5.48,1.08],[5.44,1.18],[5.46,0.93],[5.42,0.90],[5.41,1.04],[5.49,1.16],[5.45,0.86],[5.43,0.99],[5.47,1.11],[5.44,0.81],[5.40,1.07],[5.48,0.94],[5.42,1.19],[5.46,0.88],
[5.58,1.05],[5.52,0.81],[5.55,1.14],[5.50,0.93],[5.56,1.10],[5.53,0.87],[5.59,1.01],[5.51,1.16],[5.57,0.97],[5.54,0.84],[5.52,1.07],[5.58,0.90],[5.50,1.18],[5.56,0.96],[5.54,1.04],[5.59,0.82],[5.53,1.13],[5.55,0.94],[5.51,1.09],[5.57,0.83],[5.56,1.17],[5.50,0.95],[5.58,1.08],[5.52,0.88],[5.59,1.02],[5.54,1.19],[5.57,0.91],[5.51,1.12],[5.55,0.85],[5.53,0.99],
[5.65,1.18],[5.69,0.83],[5.62,1.00],[5.67,1.09],[5.60,0.91],[5.64,1.16],[5.68,0.85],[5.63,1.04],[5.66,0.97],[5.61,1.13],[5.69,0.82],[5.64,1.07],[5.67,0.95],[5.62,1.19],[5.65,0.88],[5.60,1.01],[5.66,1.14],[5.61,0.90],[5.68,1.08],[5.63,1.06],[5.64,0.92],[5.67,1.15],[5.60,0.80],[5.69,1.03],[5.62,0.89],[5.66,1.20],[5.63,0.98],[5.68,0.86],[5.61,1.11],[5.65,0.94],
[5.71,1.10],[5.76,0.87],[5.74,1.17],[5.79,0.95],[5.73,0.82],[5.78,1.05],[5.70,1.13],[5.75,0.89],[5.72,1.20],[5.77,0.99],[5.77,0.86],[5.73,1.08],[5.71,0.92],[5.75,1.16],[5.79,0.80],[5.76,1.02],[5.72,1.11],[5.78,0.94],[5.74,1.06],[5.70,0.97],[5.73,1.12],[5.75,0.84],[5.79,1.03],[5.71,1.19],[5.76,0.90],[5.70,1.07],[5.78,0.81],[5.72,1.15],[5.77,0.93],[5.74,1.00],
[5.83,0.91],[5.87,1.12],[5.81,0.99],[5.85,0.84],[5.89,1.16],[5.80,0.90],[5.84,1.03],[5.88,0.81],[5.82,1.10],[5.86,0.95],[5.85,1.07],[5.81,0.87],[5.89,1.19],[5.83,0.98],[5.87,1.13],[5.80,0.83],[5.88,1.04],[5.84,0.92],[5.86,1.17],[5.82,1.14],[5.81,0.88],[5.89,1.01],[5.85,0.93],[5.83,1.18],[5.87,0.82],[5.84,1.09],[5.80,0.96],[5.88,1.05],[5.82,0.85],[5.86,1.20],
[5.98,1.02],[5.92,1.14],[5.95,0.83],[5.90,0.97],[5.96,1.09],[5.93,1.20],[5.99,0.85],[5.91,1.00],[5.97,1.12],[5.94,0.92],[5.92,1.17],[5.98,0.80],[5.90,1.05],[5.96,0.96],[5.94,1.13],[5.99,0.87],[5.93,1.08],[5.95,1.18],[5.91,0.93],[5.97,0.90],[5.96,1.04],[5.90,1.16],[5.98,0.86],[5.92,0.99],[5.99,1.11],[5.94,0.81],[5.97,1.07],[5.91,0.94],[5.95,1.19],[5.93,0.88],
[6.05,1.05],[6.09,0.81],[6.02,1.14],[6.07,0.93],[6.00,1.10],[6.04,0.87],[6.08,1.01],[6.03,1.16],[6.06,0.97],[6.01,0.84],[6.09,1.07],[6.04,0.90],[6.07,1.18],[6.02,0.96],[6.05,1.04],[6.00,0.82],[6.06,1.13],[6.01,0.94],[6.08,1.09],[6.03,0.83],[6.04,1.17],[6.07,0.95],[6.00,1.08],[6.09,0.88],[6.02,1.02],[6.06,1.19],[6.03,0.91],[6.08,1.12],[6.01,0.85],[6.05,0.99],
[6.11,1.18],[6.16,0.83],[6.14,1.00],[6.19,1.09],[6.13,0.91],[6.18,1.16],[6.10,0.85],[6.15,1.04],[6.12,0.97],[6.17,1.13],[6.17,0.82],[6.13,1.07],[6.11,0.95],[6.15,1.19],[6.19,0.88],[6.16,1.01],[6.12,1.14],[6.18,0.90],[6.14,1.08],[6.10,1.06],[6.13,0.92],[6.15,1.15],[6.19,0.80],[6.11,1.03],[6.16,0.89],[6.10,1.20],[6.18,0.98],[6.12,0.86],[6.17,1.11],[6.14,0.94],
[6.23,1.10],[6.27,0.87],[6.21,1.17],[6.25,0.95],[6.29,0.82],[6.20,1.05],[6.24,1.13],[6.28,0.89],[6.22,1.20],[6.26,0.99],[6.25,0.86],[6.21,1.08],[6.29,0.92],[6.23,1.16],[6.27,0.80],[6.20,1.02],[6.28,1.11],[6.24,0.94],[6.26,1.06],[6.22,0.97],[6.21,1.12],[6.29,0.84],[6.25,1.03],[6.23,1.19],[6.27,0.90],[6.24,1.07],[6.20,0.81],[6.28,1.15],[6.22,0.93],[6.26,1.00],
[6.38,0.91],[6.32,1.12],[6.35,0.99],[6.30,0.84],[6.36,1.16],[6.33,0.90],[6.39,1.03],[6.31,0.81],[6.37,1.10],[6.34,0.95],[6.32,1.07],[6.38,0.87],[6.30,1.19],[6.36,0.98],[6.34,1.13],[6.39,0.83],[6.33,1.04],[6.35,0.92],[6.31,1.17],[6.37,1.14],[6.36,0.88],[6.30,1.01],[6.38,0.93],[6.32,1.18],[6.39,0.82],[6.34,1.09],[6.37,0.96],[6.31,1.05],[6.35,0.85],[6.33,1.20],
[6.45,1.02],[6.49,1.14],[6.42,0.83],[6.47,0.97],[6.40,1.09],[6.44,1.20],[6.48,0.85],[6.43,1.00],[6.46,1.12],[6.41,0.92],[6.49,1.17],[6.44,0.80],[6.47,1.05],[6.42,0.96],[6.45,1.13],[6.40,0.87],[6.46,1.08],[6.41,1.18],[6.48,0.93],[6.43,0.90],[6.44,1.04],[6.47,1.16],[6.40,0.86],[6.49,0.99],[6.42,1.11],[6.46,0.81],[6.43,1.07],[6.48,0.94],[6.41,1.19],[6.45,0.88],
[6.51,1.05],[6.56,0.81],[6.54,1.14],[6.59,0.93],[6.53,1.10],[6.58,0.87],[6.50,1.01],[6.55,1.16],[6.52,0.97],[6.57,0.84],[6.57,1.07],[6.53,0.90],[6.51,1.18],[6.55,0.96],[6.59,1.04],[6.56,0.82],[6.52,1.13],[6.58,0.94],[6.54,1.09],[6.50,0.83],[6.53,1.17],[6.55,0.95],[6.59,1.08],[6.51,0.88],[6.56,1.02],[6.50,1.19],[6.58,0.91],[6.52,1.12],[6.57,0.85],[6.54,0.99]
];
const survivedBulkExtra = [
[1.00,0.815],[1.04,1.105],[1.08,0.945],[1.02,1.185],[1.06,0.875],[1.01,1.035],[1.05,0.985],[1.09,1.145],[1.03,0.835],[1.07,1.065],[1.02,0.915],[1.06,1.175],[1.00,0.855],[1.08,1.005],[1.04,1.125],
[1.15,1.155],[1.11,0.865],[1.17,1.025],[1.13,0.805],[1.19,1.095],[1.10,0.955],[1.16,1.195],[1.12,0.905],[1.18,1.045],[1.14,0.845],[1.17,1.135],[1.13,0.975],[1.19,1.075],[1.15,0.885],[1.11,0.935],
[1.28,0.965],[1.22,1.175],[1.24,0.825],[1.26,1.085],[1.20,0.925],[1.29,1.135],[1.23,0.875],[1.27,1.015],[1.21,1.195],[1.25,0.845],[1.24,1.055],[1.28,0.905],[1.22,1.115],[1.26,0.995],[1.20,0.815],
[1.30,1.045],[1.34,0.895],[1.38,1.165],[1.32,0.935],[1.36,0.805],[1.31,1.115],[1.35,0.985],[1.39,0.855],[1.33,1.075],[1.37,1.185],[1.32,0.915],[1.36,1.025],[1.30,0.865],[1.38,1.145],[1.34,0.955],
[1.45,0.815],[1.41,1.105],[1.47,0.945],[1.43,1.185],[1.49,0.875],[1.40,1.035],[1.46,0.985],[1.42,1.145],[1.48,0.835],[1.44,1.065],[1.47,0.915],[1.43,1.175],[1.49,0.855],[1.45,1.005],[1.41,1.125],
[1.58,1.155],[1.52,0.865],[1.54,1.025],[1.56,0.805],[1.50,1.095],[1.59,0.955],[1.53,1.195],[1.57,0.905],[1.51,1.045],[1.55,0.845],[1.54,1.135],[1.58,0.975],[1.52,1.075],[1.56,0.885],[1.50,0.935],
[1.60,0.965],[1.64,1.175],[1.68,0.825],[1.62,1.085],[1.66,0.925],[1.61,1.135],[1.65,0.875],[1.69,1.015],[1.63,1.195],[1.67,0.845],[1.62,1.055],[1.66,0.905],[1.60,1.115],[1.68,0.995],[1.64,0.815],
[1.75,1.045],[1.71,0.895],[1.77,1.165],[1.73,0.935],[1.79,0.805],[1.70,1.115],[1.76,0.985],[1.72,0.855],[1.78,1.075],[1.74,1.185],[1.77,0.915],[1.73,1.025],[1.79,0.865],[1.75,1.145],[1.71,0.955],
[1.88,0.815],[1.82,1.105],[1.84,0.945],[1.86,1.185],[1.80,0.875],[1.89,1.035],[1.83,0.985],[1.87,1.145],[1.81,0.835],[1.85,1.065],[1.84,0.915],[1.88,1.175],[1.82,0.855],[1.86,1.005],[1.80,1.125],
[1.90,1.155],[1.94,0.865],[1.98,1.025],[1.92,0.805],[1.96,1.095],[1.91,0.955],[1.95,1.195],[1.99,0.905],[1.93,1.045],[1.97,0.845],[1.92,1.135],[1.96,0.975],[1.90,1.075],[1.98,0.885],[1.94,0.935],
[2.05,0.965],[2.01,1.175],[2.07,0.825],[2.03,1.085],[2.09,0.925],[2.00,1.135],[2.06,0.875],[2.02,1.015],[2.08,1.195],[2.04,0.845],[2.07,1.055],[2.03,0.905],[2.09,1.115],[2.05,0.995],[2.01,0.815],
[2.18,1.045],[2.12,0.895],[2.14,1.165],[2.16,0.935],[2.10,0.805],[2.19,1.115],[2.13,0.985],[2.17,0.855],[2.11,1.075],[2.15,1.185],[2.14,0.915],[2.18,1.025],[2.12,0.865],[2.16,1.145],[2.10,0.955],
[2.20,0.815],[2.24,1.105],[2.28,0.945],[2.22,1.185],[2.26,0.875],[2.21,1.035],[2.25,0.985],[2.29,1.145],[2.23,0.835],[2.27,1.065],[2.22,0.915],[2.26,1.175],[2.20,0.855],[2.28,1.005],[2.24,1.125],
[2.35,1.155],[2.31,0.865],[2.37,1.025],[2.33,0.805],[2.39,1.095],[2.30,0.955],[2.36,1.195],[2.32,0.905],[2.38,1.045],[2.34,0.845],[2.37,1.135],[2.33,0.975],[2.39,1.075],[2.35,0.885],[2.31,0.935],
[2.48,0.965],[2.42,1.175],[2.44,0.825],[2.46,1.085],[2.40,0.925],[2.49,1.135],[2.43,0.875],[2.47,1.015],[2.41,1.195],[2.45,0.845],[2.44,1.055],[2.48,0.905],[2.42,1.115],[2.46,0.995],[2.40,0.815],
[2.50,1.045],[2.54,0.895],[2.58,1.165],[2.52,0.935],[2.56,0.805],[2.51,1.115],[2.55,0.985],[2.59,0.855],[2.53,1.075],[2.57,1.185],[2.52,0.915],[2.56,1.025],[2.50,0.865],[2.58,1.145],[2.54,0.955],
[2.65,0.815],[2.61,1.105],[2.67,0.945],[2.63,1.185],[2.69,0.875],[2.60,1.035],[2.66,0.985],[2.62,1.145],[2.68,0.835],[2.64,1.065],[2.67,0.915],[2.63,1.175],[2.69,0.855],[2.65,1.005],[2.61,1.125],
[2.78,1.155],[2.72,0.865],[2.74,1.025],[2.76,0.805],[2.70,1.095],[2.79,0.955],[2.73,1.195],[2.77,0.905],[2.71,1.045],[2.75,0.845],[2.74,1.135],[2.78,0.975],[2.72,1.075],[2.76,0.885],[2.70,0.935],
[2.80,0.965],[2.84,1.175],[2.88,0.825],[2.82,1.085],[2.86,0.925],[2.81,1.135],[2.85,0.875],[2.89,1.015],[2.83,1.195],[2.87,0.845],[2.82,1.055],[2.86,0.905],[2.80,1.115],[2.88,0.995],[2.84,0.815],
[2.95,1.045],[2.91,0.895],[2.97,1.165],[2.93,0.935],[2.99,0.805],[2.90,1.115],[2.96,0.985],[2.92,0.855],[2.98,1.075],[2.94,1.185],[2.97,0.915],[2.93,1.025],[2.99,0.865],[2.95,1.145],[2.91,0.955],
[3.08,0.815],[3.02,1.105],[3.04,0.945],[3.06,1.185],[3.00,0.875],[3.09,1.035],[3.03,0.985],[3.07,1.145],[3.01,0.835],[3.05,1.065],[3.04,0.915],[3.08,1.175],[3.02,0.855],[3.06,1.005],[3.00,1.125],
[3.10,1.155],[3.14,0.865],[3.18,1.025],[3.12,0.805],[3.16,1.095],[3.11,0.955],[3.15,1.195],[3.19,0.905],[3.13,1.045],[3.17,0.845],[3.12,1.135],[3.16,0.975],[3.10,1.075],[3.18,0.885],[3.14,0.935],
[3.25,0.965],[3.21,1.175],[3.27,0.825],[3.23,1.085],[3.29,0.925],[3.20,1.135],[3.26,0.875],[3.22,1.015],[3.28,1.195],[3.24,0.845],[3.27,1.055],[3.23,0.905],[3.29,1.115],[3.25,0.995],[3.21,0.815],
[3.38,1.045],[3.32,0.895],[3.34,1.165],[3.36,0.935],[3.30,0.805],[3.39,1.115],[3.33,0.985],[3.37,0.855],[3.31,1.075],[3.35,1.185],[3.34,0.915],[3.38,1.025],[3.32,0.865],[3.36,1.145],[3.30,0.955],
[3.40,0.815],[3.44,1.105],[3.48,0.945],[3.42,1.185],[3.46,0.875],[3.41,1.035],[3.45,0.985],[3.49,1.145],[3.43,0.835],[3.47,1.065],[3.42,0.915],[3.46,1.175],[3.40,0.855],[3.48,1.005],[3.44,1.125],
[3.55,1.155],[3.51,0.865],[3.57,1.025],[3.53,0.805],[3.59,1.095],[3.50,0.955],[3.56,1.195],[3.52,0.905],[3.58,1.045],[3.54,0.845],[3.57,1.135],[3.53,0.975],[3.59,1.075],[3.55,0.885],[3.51,0.935],
[3.68,0.965],[3.62,1.175],[3.64,0.825],[3.66,1.085],[3.60,0.925],[3.69,1.135],[3.63,0.875],[3.67,1.015],[3.61,1.195],[3.65,0.845],[3.64,1.055],[3.68,0.905],[3.62,1.115],[3.66,0.995],[3.60,0.815],
[3.70,1.045],[3.74,0.895],[3.78,1.165],[3.72,0.935],[3.76,0.805],[3.71,1.115],[3.75,0.985],[3.79,0.855],[3.73,1.075],[3.77,1.185],[3.72,0.915],[3.76,1.025],[3.70,0.865],[3.78,1.145],[3.74,0.955],
[3.85,0.815],[3.81,1.105],[3.87,0.945],[3.83,1.185],[3.89,0.875],[3.80,1.035],[3.86,0.985],[3.82,1.145],[3.88,0.835],[3.84,1.065],[3.87,0.915],[3.83,1.175],[3.89,0.855],[3.85,1.005],[3.81,1.125],
[3.98,1.155],[3.92,0.865],[3.94,1.025],[3.96,0.805],[3.90,1.095],[3.99,0.955],[3.93,1.195],[3.97,0.905],[3.91,1.045],[3.95,0.845],[3.94,1.135],[3.98,0.975],[3.92,1.075],[3.96,0.885],[3.90,0.935],
[4.00,0.965],[4.04,1.175],[4.08,0.825],[4.02,1.085],[4.06,0.925],[4.01,1.135],[4.05,0.875],[4.09,1.015],[4.03,1.195],[4.07,0.845],[4.02,1.055],[4.06,0.905],[4.00,1.115],[4.08,0.995],[4.04,0.815],
[4.15,1.045],[4.11,0.895],[4.17,1.165],[4.13,0.935],[4.19,0.805],[4.10,1.115],[4.16,0.985],[4.12,0.855],[4.18,1.075],[4.14,1.185],[4.17,0.915],[4.13,1.025],[4.19,0.865],[4.15,1.145],[4.11,0.955],
[4.28,0.815],[4.22,1.105],[4.24,0.945],[4.26,1.185],[4.20,0.875],[4.29,1.035],[4.23,0.985],[4.27,1.145],[4.21,0.835],[4.25,1.065],[4.24,0.915],[4.28,1.175],[4.22,0.855],[4.26,1.005],[4.20,1.125],
[4.30,1.155],[4.34,0.865],[4.38,1.025],[4.32,0.805],[4.36,1.095],[4.31,0.955],[4.35,1.195],[4.39,0.905],[4.33,1.045],[4.37,0.845],[4.32,1.135],[4.36,0.975],[4.30,1.075],[4.38,0.885],[4.34,0.935],
[4.45,0.965],[4.41,1.175],[4.47,0.825],[4.43,1.085],[4.49,0.925],[4.40,1.135],[4.46,0.875],[4.42,1.015],[4.48,1.195],[4.44,0.845],[4.47,1.055],[4.43,0.905],[4.49,1.115],[4.45,0.995],[4.41,0.815],
[4.58,1.045],[4.52,0.895],[4.54,1.165],[4.56,0.935],[4.50,0.805],[4.59,1.115],[4.53,0.985],[4.57,0.855],[4.51,1.075],[4.55,1.185],[4.54,0.915],[4.58,1.025],[4.52,0.865],[4.56,1.145],[4.50,0.955],
[4.60,0.815],[4.64,1.105],[4.68,0.945],[4.62,1.185],[4.66,0.875],[4.61,1.035],[4.65,0.985],[4.69,1.145],[4.63,0.835],[4.67,1.065],[4.62,0.915],[4.66,1.175],[4.60,0.855],[4.68,1.005],[4.64,1.125],
[4.75,1.155],[4.71,0.865],[4.77,1.025],[4.73,0.805],[4.79,1.095],[4.70,0.955],[4.76,1.195],[4.72,0.905],[4.78,1.045],[4.74,0.845],[4.77,1.135],[4.73,0.975],[4.79,1.075],[4.75,0.885],[4.71,0.935],
[4.88,0.965],[4.82,1.175],[4.84,0.825],[4.86,1.085],[4.80,0.925],[4.89,1.135],[4.83,0.875],[4.87,1.015],[4.81,1.195],[4.85,0.845],[4.84,1.055],[4.88,0.905],[4.82,1.115],[4.86,0.995],[4.80,0.815],
[4.90,1.045],[4.94,0.895],[4.98,1.165],[4.92,0.935],[4.96,0.805],[4.91,1.115],[4.95,0.985],[4.99,0.855],[4.93,1.075],[4.97,1.185],[4.92,0.915],[4.96,1.025],[4.90,0.865],[4.98,1.145],[4.94,0.955],
[5.05,0.815],[5.01,1.105],[5.07,0.945],[5.03,1.185],[5.09,0.875],[5.00,1.035],[5.06,0.985],[5.02,1.145],[5.08,0.835],[5.04,1.065],[5.07,0.915],[5.03,1.175],[5.09,0.855],[5.05,1.005],[5.01,1.125],
[5.18,1.155],[5.12,0.865],[5.14,1.025],[5.16,0.805],[5.10,1.095],[5.19,0.955],[5.13,1.195],[5.17,0.905],[5.11,1.045],[5.15,0.845],[5.14,1.135],[5.18,0.975],[5.12,1.075],[5.16,0.885],[5.10,0.935],
[5.20,0.965],[5.24,1.175],[5.28,0.825],[5.22,1.085],[5.26,0.925],[5.21,1.135],[5.25,0.875],[5.29,1.015],[5.23,1.195],[5.27,0.845],[5.22,1.055],[5.26,0.905],[5.20,1.115],[5.28,0.995],[5.24,0.815],
[5.35,1.045],[5.31,0.895],[5.37,1.165],[5.33,0.935],[5.39,0.805],[5.30,1.115],[5.36,0.985],[5.32,0.855],[5.38,1.075],[5.34,1.185],[5.37,0.915],[5.33,1.025],[5.39,0.865],[5.35,1.145],[5.31,0.955],
[5.48,0.815],[5.42,1.105],[5.44,0.945],[5.46,1.185],[5.40,0.875],[5.49,1.035],[5.43,0.985],[5.47,1.145],[5.41,0.835],[5.45,1.065],[5.44,0.915],[5.48,1.175],[5.42,0.855],[5.46,1.005],[5.40,1.125],
[5.50,1.155],[5.54,0.865],[5.58,1.025],[5.52,0.805],[5.56,1.095],[5.51,0.955],[5.55,1.195],[5.59,0.905],[5.53,1.045],[5.57,0.845],[5.52,1.135],[5.56,0.975],[5.50,1.075],[5.58,0.885],[5.54,0.935],
[5.65,0.965],[5.61,1.175],[5.67,0.825],[5.63,1.085],[5.69,0.925],[5.60,1.135],[5.66,0.875],[5.62,1.015],[5.68,1.195],[5.64,0.845],[5.67,1.055],[5.63,0.905],[5.69,1.115],[5.65,0.995],[5.61,0.815],
[5.78,1.045],[5.72,0.895],[5.74,1.165],[5.76,0.935],[5.70,0.805],[5.79,1.115],[5.73,0.985],[5.77,0.855],[5.71,1.075],[5.75,1.185],[5.74,0.915],[5.78,1.025],[5.72,0.865],[5.76,1.145],[5.70,0.955],
[5.80,0.815],[5.84,1.105],[5.88,0.945],[5.82,1.185],[5.86,0.875],[5.81,1.035],[5.85,0.985],[5.89,1.145],[5.83,0.835],[5.87,1.065],[5.82,0.915],[5.86,1.175],[5.80,0.855],[5.88,1.005],[5.84,1.125],
[5.95,1.155],[5.91,0.865],[5.97,1.025],[5.93,0.805],[5.99,1.095],[5.90,0.955],[5.96,1.195],[5.92,0.905],[5.98,1.045],[5.94,0.845],[5.97,1.135],[5.93,0.975],[5.99,1.075],[5.95,0.885],[5.91,0.935],
[6.08,0.965],[6.02,1.175],[6.04,0.825],[6.06,1.085],[6.00,0.925],[6.09,1.135],[6.03,0.875],[6.07,1.015],[6.01,1.195],[6.05,0.845],[6.04,1.055],[6.08,0.905],[6.02,1.115],[6.06,0.995],[6.00,0.815],
[6.10,1.045],[6.14,0.895],[6.18,1.165],[6.12,0.935],[6.16,0.805],[6.11,1.115],[6.15,0.985],[6.19,0.855],[6.13,1.075],[6.17,1.185],[6.12,0.915],[6.16,1.025],[6.10,0.865],[6.18,1.145],[6.14,0.955],
[6.25,0.815],[6.21,1.105],[6.27,0.945],[6.23,1.185],[6.29,0.875],[6.20,1.035],[6.26,0.985],[6.22,1.145],[6.28,0.835],[6.24,1.065],[6.27,0.915],[6.23,1.175],[6.29,0.855],[6.25,1.005],[6.21,1.125],
[6.38,1.155],[6.32,0.865],[6.34,1.025],[6.36,0.805],[6.30,1.095],[6.39,0.955],[6.33,1.195],[6.37,0.905],[6.31,1.045],[6.35,0.845],[6.34,1.135],[6.38,0.975],[6.32,1.075],[6.36,0.885],[6.30,0.935],
[6.40,0.965],[6.44,1.175],[6.48,0.825],[6.42,1.085],[6.46,0.925],[6.41,1.135],[6.45,0.875],[6.49,1.015],[6.43,1.195],[6.47,0.845],[6.42,1.055],[6.46,0.905],[6.40,1.115],[6.48,0.995],[6.44,0.815],
[6.55,1.045],[6.51,0.895],[6.57,1.165],[6.53,0.935],[6.59,0.805],[6.50,1.115],[6.56,0.985],[6.52,0.855],[6.58,1.075],[6.54,1.185],[6.57,0.915],[6.53,1.025],[6.59,0.865],[6.55,1.145],[6.51,0.955]
];
const survivedLarge = [
[6.61,1.12],[6.63,0.86],[6.62,1.01],[6.64,1.17],[6.66,0.93],[6.65,1.06],[6.67,0.82],[6.68,1.14],[6.70,0.97],[6.69,1.09],[6.71,0.89],[6.72,1.19],[6.74,1.03],[6.73,0.84],[6.76,1.11],[6.75,0.95],[6.77,0.87],[6.79,1.05],[6.78,1.16],[6.80,0.92],[6.62,0.81],[6.66,1.20],[6.70,1.15],[6.74,0.91],
[6.90,1.18],[7.02,1.19],[6.97,1.15],[7.15,1.16],[7.21,1.17],[7.10,1.13],[7.15,1.09],[7.26,1.11],[7.42,1.19],[7.47,1.19],[7.64,1.19],[7.37,1.07],[7.32,1.06],[7.50,1.10],[7.21,1.05],[7.18,1.02],[6.90,1.02],[7.00,0.98],[7.15,0.95],[7.26,0.97],[7.50,1.02],[7.53,1.02],[7.58,0.99],[7.68,0.97],[7.85,0.96],[6.94,0.92],[7.04,0.92],[7.21,0.92],[7.45,0.91],[7.47,0.89],[7.57,0.89],[7.68,0.89],[7.74,0.90],[7.61,0.86],[7.71,0.85],[7.82,0.86],[6.94,0.83],[7.06,0.85],[7.13,0.83],[7.26,0.83],[7.68,0.83],[7.69,0.82],[6.73,0.82],[6.83,0.88],[6.76,0.99],[6.68,1.09],[6.65,1.19],[7.04,0.89],[7.61,0.95],[7.79,0.99],[7.66,1.02],[7.88,0.97],[6.86,1.07],[6.88,0.96],[6.84,1.13]
];

// ---- fitted survival curves (predicted probability at each size) ----
const fitSize      = [-1.0, -0.6, -0.3, 0, 0.3, 0.6, 0.9, 1.2, 1.5, 1.8, 2.1, 2.5, 3.0, 3.5, 4.0, 5.0, 6.0, 7.0, 7.88];
const fitIntercept = [0.966,0.966,0.966,0.966,0.966,0.966,0.966,0.966,0.966,0.966,0.966,0.966,0.966,0.966,0.966,0.966,0.966,0.966,0.966];
const fitLinear    = [0.676,0.742,0.783,0.820,0.855,0.884,0.909,0.930,0.946,0.958,0.967,0.977,0.985,0.990,0.993,0.996,0.998,0.999,0.999];
const fitQuadratic = [0.642,0.715,0.765,0.808,0.847,0.879,0.905,0.927,0.944,0.957,0.966,0.975,0.982,0.987,0.990,0.993,0.995,0.996,0.996];
const fitCubic     = [0.673,0.740,0.782,0.820,0.855,0.884,0.909,0.930,0.946,0.958,0.967,0.977,0.985,0.990,0.993,0.996,0.998,0.999,0.999];

const legendLabels = ["1: BIC = 768.3", "size: BIC = 627.0", "size+size2: BIC = 634.7", "size+size2+size3: BIC = 627.0"];
const legendColors = ["#e03a3a", "#44c444", "#5252cc", "#55dfec"];

// ---- layout ----
const svg = d3.select("#chart");
const plot = { left: 130, right: 986, top: 87, bottom: 621 };
const x = d3.scaleLinear().domain([-0.87, 8.20]).range([plot.left, plot.right]);
const y = d3.scaleLinear().domain([-0.256, 1.256]).range([plot.bottom, plot.top]);

svg.append("rect").attr("width", 978).attr("height", 751).attr("fill", "#fff");

svg.append("clipPath").attr("id", "plotClip")
  .append("rect")
  .attr("x", plot.left).attr("y", plot.top)
  .attr("width", plot.right - plot.left).attr("height", plot.bottom - plot.top);

// ---- points ----
const allPoints = [].concat(survivedSmall, survivedColumnA, survivedColumnB, survivedRising,
  survivedBulk, survivedBulkExtra, survivedLarge, died);
svg.append("g")
  .attr("clip-path", "url(#plotClip)")
  .selectAll("circle")
  .data(allPoints)
  .join("circle")
  .attr("cx", d => x(d[0]))
  .attr("cy", d => y(d[1]))
  .attr("r", 5.8)
  .attr("fill", "none")
  .attr("stroke", "#111")
  .attr("stroke-width", 2);

// ---- fitted lines ----
const lineGen = vals => d3.line()
  .x((d, i) => x(fitSize[i]))
  .y(d => y(d))
  .curve(d3.curveMonotoneX)(vals);

const fits = [
  { vals: fitIntercept, color: "#ee1b1b", width: 5.5 },
  { vals: fitLinear,    color: "#2ac42a", width: 4 },
  { vals: fitQuadratic, color: "#1414dc", width: 5.5 },
  { vals: fitCubic,     color: "#a7d0e6", width: 4.5 }
];
const fitG = svg.append("g").attr("clip-path", "url(#plotClip)");
fits.forEach(f => {
  fitG.append("path")
    .attr("d", lineGen(f.vals))
    .attr("fill", "none")
    .attr("stroke", f.color)
    .attr("stroke-width", f.width)
    .attr("stroke-linecap", "round");
});

// ---- plot frame ----
svg.append("rect")
  .attr("x", plot.left).attr("y", plot.top)
  .attr("width", plot.right - plot.left).attr("height", plot.bottom - plot.top)
  .attr("fill", "none").attr("stroke", "#333").attr("stroke-width", 1.8);

// ---- axes ----
const xAxis = svg.append("g")
  .attr("transform", `translate(0,${plot.bottom})`)
  .call(d3.axisBottom(x).tickValues(xTicks).tickSize(15).tickFormat(d => String(d)));
const yAxis = svg.append("g")
  .attr("transform", `translate(${plot.left},0)`)
  .call(d3.axisLeft(y).tickValues(yTicks).tickSize(15).tickFormat(d => d.toFixed(1)));

[xAxis, yAxis].forEach(a => {
  a.select(".domain").remove();
  a.selectAll(".tick line").attr("stroke", "#333").attr("stroke-width", 1.8);
  a.selectAll(".tick text")
    .attr("fill", "#1a1a1a")
    .style("font-size", "26px")
    .style("font-family", '"Liberation Sans", Arial, Helvetica, sans-serif');
});
xAxis.selectAll(".tick text").attr("y", 31).attr("dy", null);
yAxis.selectAll(".tick text")
  .attr("x", null).attr("dy", null)
  .attr("text-anchor", "middle")
  .attr("transform", "translate(-31,0) rotate(-90)");

// ---- titles ----
svg.append("text")
  .attr("x", 558).attr("y", 36)
  .attr("text-anchor", "middle")
  .attr("font-weight", "bold")
  .attr("font-size", 31)
  .attr("fill", "#000")
  .text("Survival");

svg.append("text")
  .attr("x", 558).attr("y", 713)
  .attr("text-anchor", "middle")
  .attr("font-size", 26)
  .attr("fill", "#1a1a1a")
  .text("Size (t)");

svg.append("text")
  .attr("transform", `translate(37,${(plot.top + plot.bottom) / 2}) rotate(-90)`)
  .attr("text-anchor", "middle")
  .attr("font-size", 26)
  .attr("fill", "#1a1a1a")
  .text("survival");

// ---- legend ----
const legend = svg.append("g");
legend.append("rect")
  .attr("x", 329.5).attr("y", 276.5)
  .attr("width", 457).attr("height", 157)
  .attr("fill", "#fff").attr("stroke", "#222").attr("stroke-width", 1.8);

legendLabels.forEach((label, i) => {
  const base = 313 + i * 32.7;
  legend.append("line")
    .attr("x1", 353).attr("x2", 400)
    .attr("y1", base - 9).attr("y2", base - 9)
    .attr("stroke", legendColors[i]).attr("stroke-width", 2);
  legend.append("text")
    .attr("x", 423).attr("y", base)
    .attr("font-size", 26)
    .attr("fill", "#1a1a1a")
    .text(label);
});
</script>
</body>
</html>
